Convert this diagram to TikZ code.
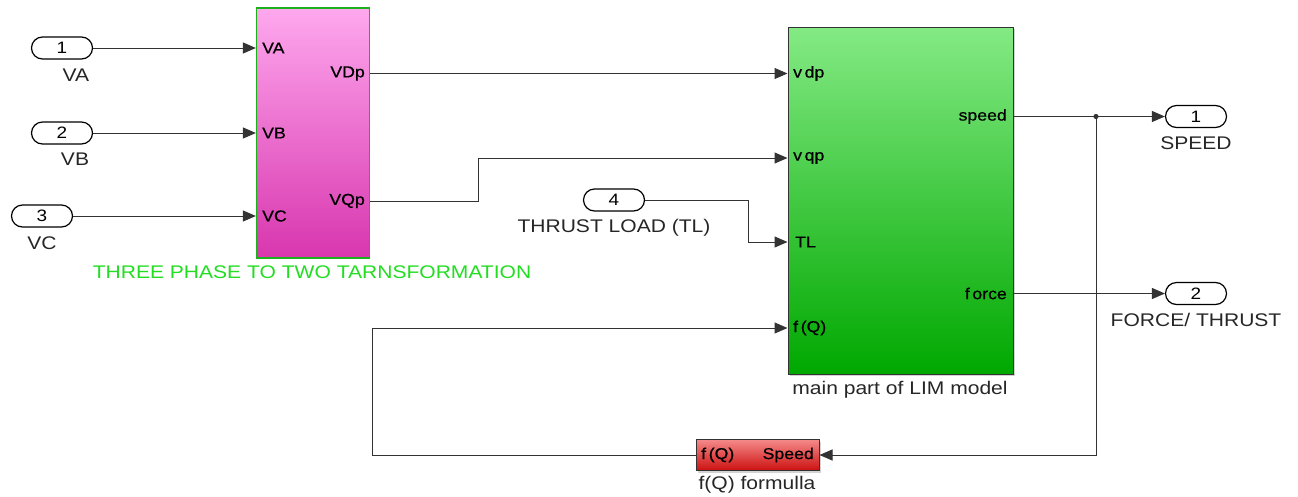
\documentclass[tikz,border=0pt]{standalone}
\usepackage{fontspec}
\setmainfont{Liberation Sans}[FakeStretch=1.15]
\newfontfamily\portfont{Liberation Sans}[FakeStretch=1.12,FakeBold=0.6]
\usetikzlibrary{arrows.meta,shapes.misc,shadows}
\definecolor{wire}{HTML}{333333}
\definecolor{pinktop}{HTML}{FEA8EE}
\definecolor{pinkbot}{HTML}{D836AE}
\definecolor{greentop}{HTML}{84EA84}
\definecolor{greenbot}{HTML}{00A800}
\definecolor{redtop}{HTML}{F58A8A}
\definecolor{redbot}{HTML}{CC1010}
\definecolor{titlegreen}{HTML}{22DD22}
\begin{document}
\begin{tikzpicture}[x=1pt,y=-1pt,
  pill/.style={rounded rectangle,draw=black,line width=1.2pt,fill=white,minimum width=61pt,minimum height=22pt,inner sep=0pt,font=\fontsize{16.5}{16.5}\selectfont},
  lbl/.style={inner sep=0pt,font=\fontsize{18.3}{18.3}\selectfont,text=black!85},
  port/.style={inner sep=0pt,font=\portfont\fontsize{15.8}{15.8}\selectfont},
  wirestyle/.style={draw=wire,line width=1pt},
  arr/.style={wirestyle,-{Triangle[length=13pt,width=11pt]}},
  blkshadow/.style={drop shadow={shadow xshift=2pt,shadow yshift=-2pt,opacity=0.35}}
]
\useasboundingbox (0,0) rectangle (1298,496);

% inports
\node[pill] (in1) at (62,48) {1};
\node[lbl] (in1l) at (76,75) {VA};
\node[pill] (in2) at (62,133) {2};
\node[lbl] (in2l) at (75,159) {VB};
\node[pill] (in3) at (42,216) {3};
\node[lbl] (in3l) at (42,243) {VC};

% three-phase block
\node[rectangle,draw=titlegreen!80!black,line width=1.2pt,top color=pinktop,bottom color=pinkbot,minimum width=113pt,minimum height=250pt,inner sep=0pt] (t32) at (313,133) {};
\node[port,anchor=west] (pVA) at (262,48) {VA};
\node[port,anchor=west] (pVB) at (262,133) {VB};
\node[port,anchor=west] (pVC) at (262,216) {VC};
\node[port,anchor=east] (pVDp) at (365,73.5) {VDp};
\node[port,anchor=east] (pVQp) at (365,201) {VQp};
\node[lbl,text=titlegreen] (t32l) at (312,272) {THREE PHASE TO TWO TARNSFORMATION};

% LIM block
\node[rectangle,draw=black!80,line width=1pt,top color=greentop,bottom color=greenbot,minimum width=225pt,minimum height=347pt,inner sep=0pt,blkshadow] (lim) at (900.5,200.5) {};
\node[port,anchor=west] (pvdp) at (793,73.5) {v\,dp};
\node[port,anchor=west] (pvqp) at (793,158) {v\,qp};
\node[port,anchor=west] (pTL) at (795,242) {TL};
\node[port,anchor=west] (pfQ) at (793,328) {f\,(Q)};
\node[port,anchor=east] (pspeed) at (1007,116.5) {speed};
\node[port,anchor=east] (pforce) at (1007,293.5) {f\,orce};
\node[lbl] (liml) at (900,390) {main part of LIM model};

% inport 4
\node[pill] (in4) at (614,200) {4};
\node[lbl] (in4l) at (614,228) {THRUST LOAD (TL)};
\coordinate (tlbend) at (748,200);

% outports
\node[pill] (out1) at (1196,116.5) {1};
\node[lbl] (out1l) at (1196,143) {SPEED};
\node[pill] (out2) at (1196,293.5) {2};
\node[lbl] (out2l) at (1196,320) {FORCE/ THRUST};
\coordinate (jn) at (1096,116.5);

% f(Q) block
\node[rectangle,draw=black!80,line width=1pt,top color=redtop,bottom color=redbot,minimum width=123pt,minimum height=31pt,inner sep=0pt,blkshadow] (fq) at (757.5,455) {};
\node[port,anchor=west] (fqin) at (701,455) {f\,(Q)};
\node[port,anchor=east] (fqout) at (814,455) {Speed};
\node[lbl] (fql) at (757,485) {f(Q) formulla};
\coordinate (fbl) at (372,455);

% connectors
\draw[arr] (in1.east) -- (t32.west |- in1.east);
\draw[arr] (in2.east) -- (t32.west |- in2.east);
\draw[arr] (in3.east) -- (t32.west |- in3.east);
\draw[arr] (t32.east |- pVDp) -- (lim.west |- pvdp);
\draw[arr] (t32.east |- pVQp) -- ++(108,0) |- (lim.west |- pvqp);
\draw[arr] (in4.east) -- (tlbend) |- (lim.west |- pTL);
\draw[arr] (lim.east |- pspeed) -- (out1.west);
\draw[arr] (lim.east |- pforce) -- (out2.west);
\draw[arr] (jn) |- (fq.east);
\fill[wire] (jn) circle (2.6pt);
\draw[arr] (fq.west) -- (fbl) |- (lim.west |- pfQ);
\end{tikzpicture}
\end{document}
